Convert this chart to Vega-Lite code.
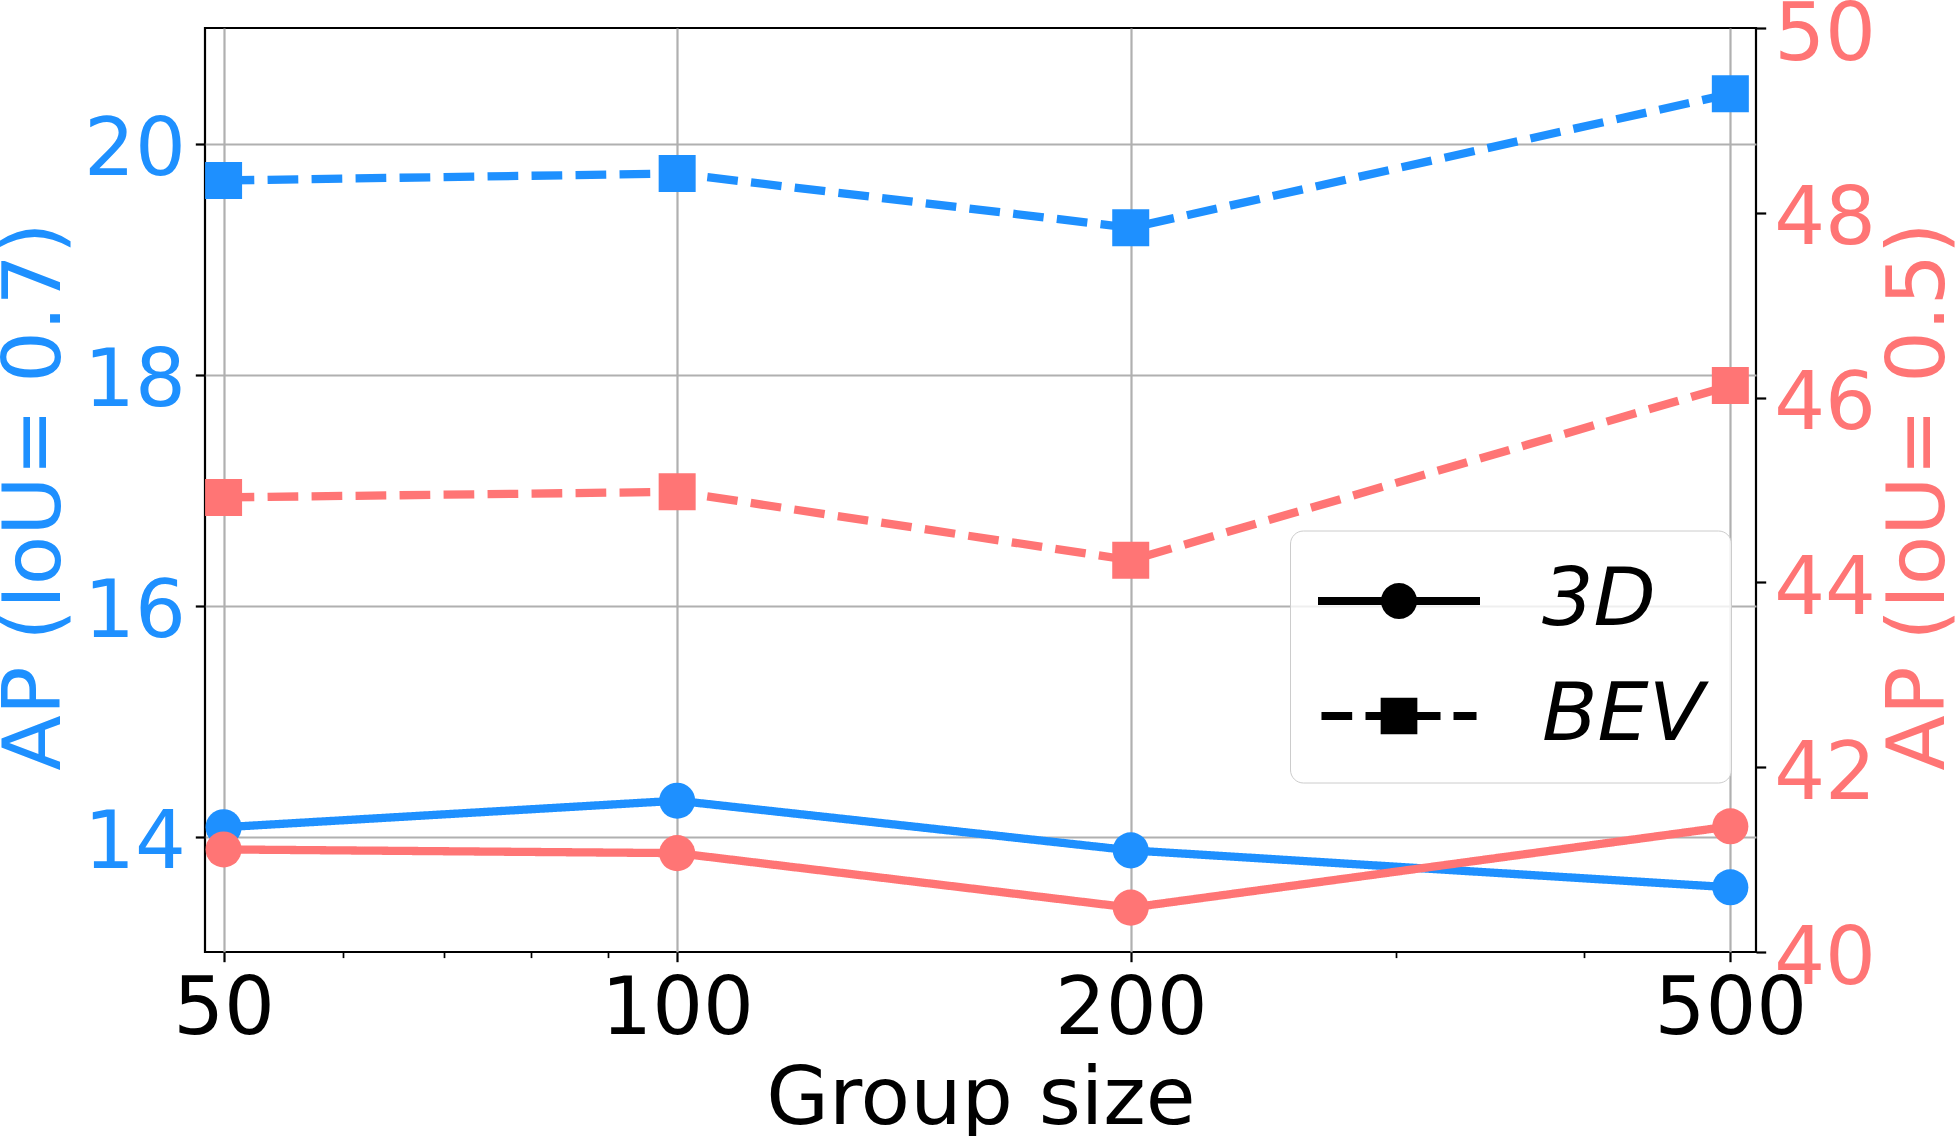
{
  "$schema": "https://vega.github.io/schema/vega-lite/v6.json",
  "width": 1551,
  "height": 924,
  "autosize": {"type": "none"},
  "padding": {"left": 205, "top": 28, "right": 204, "bottom": 184},
  "background": "white",
  "config": {
    "view": {"stroke": "black", "strokeWidth": 2.2},
    "font": "DejaVu Sans",
    "axis": {
      "labelFont": "DejaVu Sans",
      "titleFont": "DejaVu Sans",
      "labelFontSize": 80,
      "titleFontSize": 81,
      "titleFontWeight": "normal",
      "domain": false,
      "tickColor": "black",
      "tickWidth": 2.2,
      "tickSize": 9.7,
      "gridColor": "#b0b0b0",
      "gridWidth": 2.2,
      "labelFlush": false,
      "labelOverlap": false
    }
  },
  "data": {
    "values": [
      {"size": 50, "metric": "3D", "iou": "0.7", "ap": 14.08},
      {"size": 100, "metric": "3D", "iou": "0.7", "ap": 14.31},
      {"size": 200, "metric": "3D", "iou": "0.7", "ap": 13.88},
      {"size": 500, "metric": "3D", "iou": "0.7", "ap": 13.56},
      {"size": 50, "metric": "BEV", "iou": "0.7", "ap": 19.68},
      {"size": 100, "metric": "BEV", "iou": "0.7", "ap": 19.74},
      {"size": 200, "metric": "BEV", "iou": "0.7", "ap": 19.27},
      {"size": 500, "metric": "BEV", "iou": "0.7", "ap": 20.43},
      {"size": 50, "metric": "3D", "iou": "0.5", "ap": 41.11},
      {"size": 100, "metric": "3D", "iou": "0.5", "ap": 41.07},
      {"size": 200, "metric": "3D", "iou": "0.5", "ap": 40.48},
      {"size": 500, "metric": "3D", "iou": "0.5", "ap": 41.36},
      {"size": 50, "metric": "BEV", "iou": "0.5", "ap": 44.92},
      {"size": 100, "metric": "BEV", "iou": "0.5", "ap": 44.98},
      {"size": 200, "metric": "BEV", "iou": "0.5", "ap": 44.24},
      {"size": 500, "metric": "BEV", "iou": "0.5", "ap": 46.13}
    ]
  },
  "encoding": {
    "x": {
      "field": "size",
      "type": "quantitative",
      "scale": {"type": "log", "domain": [48.6, 520], "nice": false},
      "axis": {
        "title": "Group size",
        "titleColor": "black",
        "titleBaseline": "alphabetic",
        "titleY": 171,
        "values": [50, 60, 70, 80, 90, 100, 200, 300, 400, 500],
        "format": "d",
        "labelExpr": "indexof([50,100,200,500], datum.value) >= 0 ? datum.label : ''",
        "labelColor": "black",
        "labelBaseline": "top",
        "labelPadding": 8.3,
        "grid": true,
        "gridOpacity": {"condition": {"test": "indexof([50,100,200,500], datum.value) >= 0", "value": 1}, "value": 0},
        "tickSize": {"condition": {"test": "indexof([50,100,200,500], datum.value) >= 0", "value": 9.7}, "value": 5.6},
        "tickWidth": {"condition": {"test": "indexof([50,100,200,500], datum.value) >= 0", "value": 2.2}, "value": 1.7}
      }
    }
  },
  "layer": [
    {
      "transform": [{"filter": "datum.iou === '0.7'"}],
      "encoding": {
        "y": {
          "field": "ap",
          "type": "quantitative",
          "scale": {"domain": [13.0, 21.0], "nice": false, "zero": false},
          "axis": {
            "orient": "left",
            "title": "AP (IoU= 0.7)",
            "titleColor": "#1E90FF",
            "labelColor": "#1E90FF",
            "values": [14, 16, 18, 20],
            "labelPadding": 10,
            "labelOffset": 7,
            "grid": true,
            "titleAngle": -90,
            "titleBaseline": "alphabetic",
            "titleX": -146,
            "titleY": 468
          }
        }
      },
      "layer": [
        {
          "mark": {"type": "line", "color": "#1E90FF", "strokeWidth": 8.3},
          "encoding": {
            "strokeDash": {
              "field": "metric",
              "type": "nominal",
              "scale": {"domain": ["3D", "BEV"], "range": [[1, 0], [30.7, 13.3]]},
              "legend": null
            }
          }
        },
        {
          "transform": [{"filter": "datum.metric === '3D'"}],
          "mark": {"type": "point", "shape": "circle", "filled": true, "color": "#1E90FF", "opacity": 1, "size": 1300}
        },
        {
          "transform": [{"filter": "datum.metric === 'BEV'"}],
          "mark": {"type": "point", "shape": "square", "filled": true, "color": "#1E90FF", "opacity": 1, "size": 1369}
        },
        {
          "transform": [{"filter": "datum.size < 0"}],
          "mark": {"type": "point", "filled": true, "color": "black", "fill": "black", "stroke": "black", "strokeWidth": 8, "opacity": 1},
          "encoding": {
            "shape": {
              "field": "metric",
              "type": "nominal",
              "scale": {
                "domain": ["3D", "BEV"],
                "range": [
                  "M-2,0H2M0.3457,0L0.3339,0.0895L0.2994,0.1729L0.2444,0.2444L0.1729,0.2994L0.0895,0.3339L0,0.3457L-0.0895,0.3339L-0.1729,0.2994L-0.2444,0.2444L-0.2994,0.1729L-0.3339,0.0895L-0.3457,0L-0.3339,-0.0895L-0.2994,-0.1729L-0.2444,-0.2444L-0.1729,-0.2994L-0.0895,-0.3339L0,-0.3457L0.0895,-0.3339L0.1729,-0.2994L0.2444,-0.2444L0.2994,-0.1729L0.3339,-0.0895Z",
                  "M-1.914,0H-1.156M-0.827,0H1.025M1.346,0H1.914M-0.3543,-0.3543H0.3543V0.3543H-0.3543Z"
                ]
              },
              "legend": {
                "title": null,
                "orient": "none",
                "legendX": 1085,
                "legendY": 502.5,
                "padding": 26,
                "fillColor": "rgba(255,255,255,0.8)",
                "strokeColor": "#cccccc",
                "cornerRadius": 13,
                "labelFont": "DejaVu Sans",
                "labelFontSize": 81,
                "labelFontStyle": "italic",
                "labelColor": "black",
                "labelLimit": 600,
                "labelOffset": 98.5,
                "symbolOffset": 38.5,
                "rowPadding": 30,
                "symbolSize": 6561,
                "symbolStrokeWidth": 8,
                "symbolOpacity": 1
              }
            }
          }
        }
      ],
      "resolve": {"legend": {"shape": "independent"}}
    },
    {
      "transform": [{"filter": "datum.iou === '0.5'"}],
      "encoding": {
        "y": {
          "field": "ap",
          "type": "quantitative",
          "scale": {"domain": [40, 50], "nice": false, "zero": false},
          "axis": {
            "orient": "right",
            "title": "AP (IoU= 0.5)",
            "titleColor": "#FF7575",
            "labelColor": "#FF7575",
            "values": [40, 42, 44, 46, 48, 50],
            "labelPadding": 8,
            "labelOffset": 7,
            "grid": false,
            "titleAngle": -90,
            "titleBaseline": "alphabetic",
            "titleX": 187,
            "titleY": 468
          }
        }
      },
      "layer": [
        {
          "mark": {"type": "line", "color": "#FF7575", "strokeWidth": 8.3},
          "encoding": {
            "strokeDash": {
              "field": "metric",
              "type": "nominal",
              "scale": {"domain": ["3D", "BEV"], "range": [[1, 0], [30.7, 13.3]]},
              "legend": null
            }
          }
        },
        {
          "transform": [{"filter": "datum.metric === '3D'"}],
          "mark": {"type": "point", "shape": "circle", "filled": true, "color": "#FF7575", "opacity": 1, "size": 1300}
        },
        {
          "transform": [{"filter": "datum.metric === 'BEV'"}],
          "mark": {"type": "point", "shape": "square", "filled": true, "color": "#FF7575", "opacity": 1, "size": 1369}
        }
      ]
    }
  ],
  "resolve": {"scale": {"y": "independent"}, "legend": {"shape": "independent"}}
}
